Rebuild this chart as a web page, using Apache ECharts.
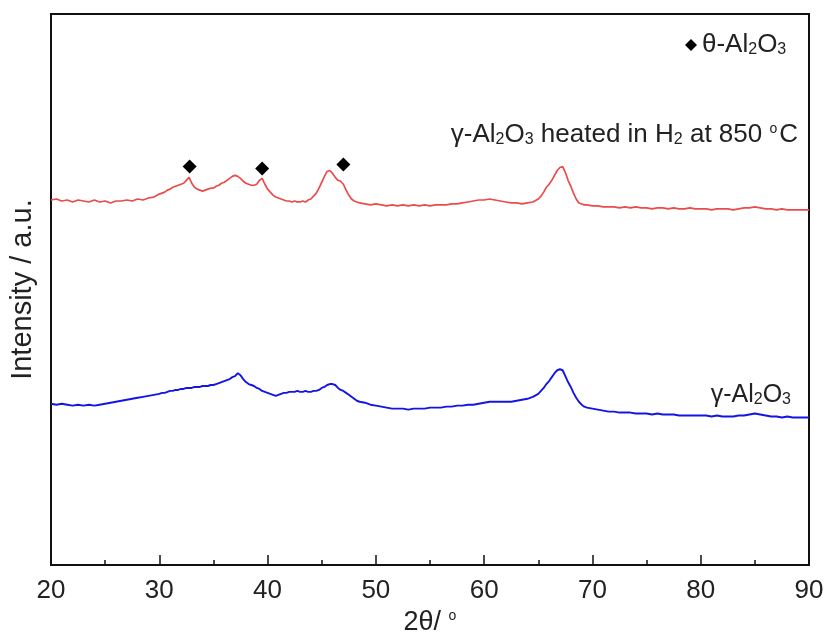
<!DOCTYPE html>
<html>
<head>
<meta charset="utf-8">
<script src="https://cdn.jsdelivr.net/npm/echarts@6/dist/echarts.min.js"></script>
<style>html,body{margin:0;padding:0;background:#fff;}#c{width:827px;height:641px;}</style>
</head>
<body>
<div id="c"></div>
<script>
// 2θ positions (degrees)
const twoTheta = [
  20,20.5,21,21.5,22,22.5,23,23.5,24,24.5,25,25.5,26,26.5,27,27.5,28,28.5,29,29.5,
  30,30.25,30.5,30.75, 31,31.25,31.5,31.75, 32,32.25,32.5,32.75, 33,33.25,33.5,33.75,
  34,34.25,34.5,34.75, 35,35.25,35.5,35.75, 36,36.25,36.5,36.75, 37,37.25,37.5,37.75,
  38,38.25,38.5,38.75, 39,39.25,39.5,39.75, 40,40.25,40.5,40.75, 41,41.25,41.5,41.75,
  42,42.25,42.5,42.75, 43,43.25,43.5,43.75, 44,44.25,44.5,44.75, 45,45.25,45.5,45.75,
  46,46.25,46.5,46.75, 47,47.25,47.5,47.75, 48,48.25,48.5,
  49,49.5,50,50.5,51,51.5,52,52.5,53,53.5,54,54.5,55,55.5,56,56.5,57,57.5,58,58.5,
  59,59.5,60,60.5,61,61.5,62,62.5,63,63.5,64,64.5,
  65,65.25,65.5,65.75, 66,66.25,66.5,66.75, 67,67.25,67.5,67.75, 68,68.25,68.5,68.75, 69,69.25,69.5,
  70,70.5,71,71.5,72,72.5,73,73.5,74,74.5,75,75.5,76,76.5,77,77.5,78,78.5,79,79.5,
  80,80.5,81,81.5,82,82.5,83,83.5,84,84.5,85,85.5,86,86.5,87,87.5,88,88.5,89,89.5,90
];
// γ-Al2O3 heated in H2 at 850 °C (red, offset trace)
const heatedIntensity = [
  371,372,370,371,369,371,370,369,371,369,370,368,370,370,371,370,372,371,373,374,
  377,378,379,381, 382,384,385,386, 387,388,391,394, 388,384,382,381,
  380,381,382,383, 383,385,386,388, 389,391,393,395, 396,395,393,390,
  388,387,386,386, 387,391,393,387, 382,379,376,374, 373,372,371,370,
  370,369,370,369, 369,370,369,371, 372,375,378,383, 389,395,400,401,
  398,394,391,390, 387,381,376,372, 370,369,368,
  367,366,367,366,365,366,365,366,365,366,365,366,365,366,366,366,367,367,368,369,
  370,371,371,372,371,370,369,368,368,367,368,369,
  372,375,379,384, 387,391,396,401, 404,405,399,391, 385,378,372,368, 367,366,366,
  365,365,364,364,364,363,364,363,364,363,363,362,363,363,362,363,362,362,363,362,
  362,362,361,362,362,362,361,362,363,363,364,363,362,362,361,362,361,361,361,361,361
];
// γ-Al2O3 (blue)
const gammaIntensity = [
  164,163,164,163,162,163,162,163,162,163,164,165,166,167,168,169,170,171,172,173,
  174,175,175,176, 177,177,178,178, 179,179,180,180, 180,181,181,181,
  182,182,182,183, 183,184,185,186, 187,188,189,191, 192,195,193,189,
  186,184,183,182, 180,179,177,176, 175,174,173,172, 173,174,175,175,
  176,176,176,177, 176,176,177,176, 176,177,177,178, 180,181,183,184,
  184,183,180,178, 177,175,173,171, 169,167,166,
  165,163,162,161,160,159,159,159,158,159,159,159,160,160,160,161,161,162,162,163,
  163,164,165,166,166,166,166,166,167,168,169,171,
  174,177,180,184, 187,191,195,198, 199,198,192,186, 181,175,170,166, 163,161,160,
  159,158,157,156,156,155,155,155,154,154,154,153,154,153,153,153,152,152,152,152,
  152,152,151,152,151,151,151,152,152,153,154,153,152,151,151,150,151,150,150,150,150
];
// θ-Al2O3 peak markers
const thetaPeakPos = [32.8, 39.5, 47.0];
const thetaPeakMark = [405, 403, 407];
const xTicks = [20, 30, 40, 50, 60, 70, 80, 90];

const chart = echarts.init(document.getElementById('c'), null, {renderer: 'canvas'});
const FONT = '"Liberation Sans", Arial, sans-serif';
const pair = (xs, ys) => xs.map((x, i) => [x, ys[i]]);

chart.setOption({
  animation: false,
  backgroundColor: '#fff',
  textStyle: {fontFamily: FONT, color: '#222'},
  grid: {left: 50, right: 18, top: 14, bottom: 66, show: true, borderColor: '#111', borderWidth: 2, backgroundColor: 'transparent'},
  legend: {
    left: 680, top: 27, icon: 'diamond', itemWidth: 12, itemHeight: 12, itemGap: 0,
    data: ['θ-Al2O3'],
    formatter: () => '{a|θ-Al}{s|2}{a|O}{s|3}',
    textStyle: {
      fontFamily: FONT, color: '#222',
      rich: {a: {fontSize: 26, fontFamily: FONT, color: '#222'}, s: {fontSize: 16, fontFamily: FONT, color: '#222', verticalAlign: 'bottom', padding: [6, 0, 0, 0]}}
    }
  },
  xAxis: {
    type: 'value', min: xTicks[0], max: xTicks[xTicks.length - 1], interval: 10,
    name: '{a|2θ/ }{o|o}', nameLocation: 'middle', nameGap: 37,
    nameTextStyle: {rich: {a: {fontSize: 27, fontFamily: FONT, color: '#222'}, o: {fontSize: 14, fontFamily: FONT, color: '#222', verticalAlign: 'top', padding: [0, 0, 12, 0]}}},
    axisLine: {show: true, lineStyle: {color: '#111', width: 2}},
    axisTick: {show: true, inside: true, length: 10, lineStyle: {color: '#111', width: 1.5}},
    minorTick: {show: true, splitNumber: 2, length: 5, lineStyle: {color: '#111', width: 1.5}},
    axisLabel: {fontSize: 26, color: '#222', margin: 13, fontFamily: FONT},
    splitLine: {show: false}
  },
  yAxis: {
    type: 'value', min: 0, max: 560,
    name: 'Intensity / a.u.', nameLocation: 'middle', nameGap: 14,
    nameTextStyle: {fontSize: 29, fontFamily: FONT, color: '#222'},
    axisLine: {show: true, lineStyle: {color: '#111', width: 2}},
    axisTick: {show: false}, axisLabel: {show: false}, splitLine: {show: false}
  },
  series: [
    {name: 'γ-Al2O3 heated in H2 at 850 °C', type: 'line', data: pair(twoTheta, heatedIntensity), showSymbol: false, lineStyle: {color: '#ec4b4b', width: 1.7}, itemStyle: {color: '#ec4b4b'}},
    {name: 'γ-Al2O3', type: 'line', data: pair(twoTheta, gammaIntensity), showSymbol: false, lineStyle: {color: '#1414e6', width: 1.9}, itemStyle: {color: '#1414e6'}},
    {name: 'θ-Al2O3', type: 'scatter', data: pair(thetaPeakPos, thetaPeakMark), symbol: 'diamond', symbolSize: 14, itemStyle: {color: '#000', opacity: 1}}
  ],
  graphic: [
    {type: 'text', right: 827 - 798, top: 122, style: {
      text: '{a|γ-Al}{s|2}{a|O}{s|3}{a| heated in H}{s|2}{a| at 850 }{o|o}{a|C}',
      rich: {
        a: {fontSize: 26, fontFamily: FONT, fill: '#222'},
        s: {fontSize: 16, fontFamily: FONT, fill: '#222', verticalAlign: 'bottom', padding: [6, 0, 0, 0]},
        o: {fontSize: 14, fontFamily: FONT, fill: '#222', verticalAlign: 'top', padding: [0, 2, 10, 0]}
      }
    }},
    {type: 'text', right: 827 - 791, top: 383, style: {
      text: '{a|γ-Al}{s|2}{a|O}{s|3}',
      rich: {
        a: {fontSize: 25, fontFamily: FONT, fill: '#222'},
        s: {fontSize: 16, fontFamily: FONT, fill: '#222', verticalAlign: 'bottom', padding: [6, 0, 0, 0]}
      }
    }}
  ]
});
</script>
</body>
</html>
